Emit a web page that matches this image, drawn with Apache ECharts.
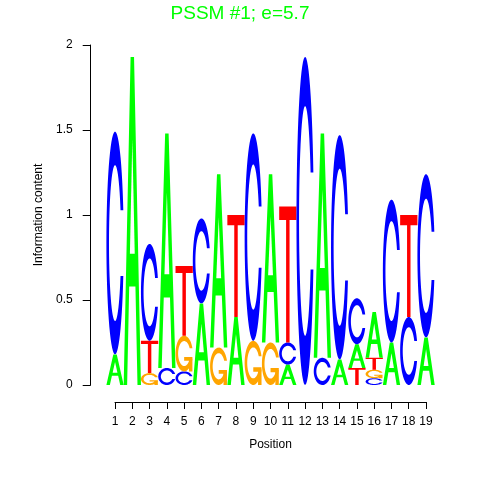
<!DOCTYPE html>
<html><head><meta charset="utf-8">
<script src="https://cdn.jsdelivr.net/npm/echarts@6/dist/echarts.min.js"></script>
<style>html,body{margin:0;padding:0;background:#fff}#c{width:480px;height:480px}</style>
</head><body><div id="c"></div>
<script>
// ---- data ----
const positions = [1,2,3,4,5,6,7,8,9,10,11,12,13,14,15,16,17,18,19];
const letters = ['A','C','G','T'];
const heightA = [0.18,1.93,0,   1.38,0,   0.48,1.02,0.40,0,   0.99,0.12,0,   1.32,0.15,0.14,0.27,0.25,0,   0.28];
const heightC = [1.31,0,   0.57,0.10,0.08,0.50,0,   0,   1.22,0,   0.13,1.93,0.16,1.32,0.27,0.04,0.84,0.40,0.96];
const heightG = [0,   0,   0.07,0,   0.21,0,   0.22,0,   0.26,0.25,0,   0,   0,   0,   0,   0.05,0,   0,   0];
const heightT = [0,   0,   0.19,0,   0.41,0,   0,   0.60,0,   0,   0.80,0,   0,   0,   0.10,0.07,0,   0.60,0];
const yTickLabels = ['0','0.5','1','1.5','2'];
const xTickLabels = positions.map(String);
const titleText = 'PSSM #1; e=5.7';

// ---- styles ----
const letterColor = {A:'#00FF00', C:'#0000FF', G:'#FFA500', T:'#FF0000'};
const FONT = 'Liberation Sans, Arial, Helvetica, sans-serif';

// build stacked items (sorted ascending by height, smallest at bottom)
const heights = {A:heightA, C:heightC, G:heightG, T:heightT};
const items = [];
positions.forEach((p, i) => {
  const col = letters.map((L, li) => ({L, li, h: heights[L][i]})).filter(d => d.h > 0)
    .sort((a, b) => a.h - b.h);
  let base = 0;
  col.forEach(d => { items.push([p, base, base + d.h, d.li]); base += d.h; });
});

// glyph outlines in unit box (u across, v up)
function cOutline() {
  const pts = [];
  const t0 = Math.PI/2 + 0.3, t1 = 2.5*Math.PI - 0.3, N = 60;
  for (let i = 0; i <= N; i++) { const t = t0 + (t1-t0)*i/N; pts.push([0.5+0.5*Math.sin(t), 0.5+0.5*Math.cos(t)]); }
  const ycut = 0.5 + 0.5*Math.cos(t0);
  const ti0 = Math.acos((ycut-0.5)/0.35), ti1 = 3*Math.PI - ti0;
  for (let i = 0; i <= N; i++) { const t = ti1 - (ti1-ti0)*i/N; pts.push([0.5+0.35*Math.sin(t), 0.5+0.35*Math.cos(t)]); }
  return pts;
}
const C_PTS = cOutline();
const r1 = Math.max(...C_PTS.map(p => p[0]));
const GLYPHS = {
  A: [{pts:[[0,0],[0.4,1],[0.6,1],[1,0],[0.8,0],[0.68,0.3],[0.32,0.3],[0.2,0]]},
      {pts:[[0.36,0.4],[0.5,0.75],[0.64,0.4]], white:true}],
  C: [{pts:C_PTS}],
  G: [{pts:C_PTS},{pts:[[r1,0.4],[0.5,0.4],[0.5,0.3],[r1-0.2,0.3],[r1-0.2,0],[r1,0]]}],
  T: [{pts:[[0,1],[1,1],[1,0.9],[0.6,0.9],[0.6,0],[0.4,0],[0.4,0.9],[0,0.9]]}]
};

function renderItem(params, api) {
  const p = api.value(0), y0 = api.value(1), y1 = api.value(2), L = letters[api.value(3)];
  const tl = api.coord([p - 0.5, y1]);
  const br = api.coord([p + 0.5, y0]);
  const x = tl[0], w = br[0] - tl[0], bottom = br[1], h = br[1] - tl[1];
  const children = GLYPHS[L].map(g => ({
    type: 'polygon',
    shape: {points: g.pts.map(q => [x + q[0]*w, bottom - q[1]*h])},
    style: {fill: g.white ? '#FFFFFF' : letterColor[L], stroke: null}
  }));
  return {type: 'group', children};
}

const chart = echarts.init(document.getElementById('c'), null, {renderer: 'canvas'});
chart.setOption({
  animation: false,
  backgroundColor: '#ffffff',
  title: {text: titleText, left: 'center', top: -1,
    textStyle: {color: '#00FF00', fontSize: 19, fontWeight: 'normal', fontFamily: FONT}},
  grid: [
    {left: 106.4, right: 45.3, top: 45, bottom: 95},
    {left: 115, right: 54, top: 401, height: 1}
  ],
  xAxis: [
    {gridIndex: 0, type: 'value', min: 0.5, max: 19.5, show: false},
    {gridIndex: 1, type: 'value', min: 1, max: 19, interval: 1, position: 'bottom',
     axisLine: {show: true, lineStyle: {color: '#000', width: 1}},
     axisTick: {show: true, inside: false, length: 7, lineStyle: {color: '#000'}},
     axisLabel: {margin: 14, fontSize: 12, color: '#000', fontFamily: FONT,
       formatter: v => xTickLabels[positions.indexOf(v)] || ''},
     splitLine: {show: false},
     name: 'Position', nameLocation: 'middle', nameGap: 37,
     nameTextStyle: {fontSize: 12, color: '#000', fontFamily: FONT}}
  ],
  yAxis: [
    {gridIndex: 0, type: 'value', min: 0, max: 2, interval: 0.5, offset: 15.7,
     axisLine: {show: true, lineStyle: {color: '#000', width: 1}},
     axisTick: {show: true, inside: false, length: 8, lineStyle: {color: '#000'}},
     axisLabel: {margin: 18, fontSize: 12, color: '#000', fontFamily: FONT,
       formatter: v => yTickLabels[Math.round(v / 0.5)]},
     splitLine: {show: false},
     name: 'Information content', nameLocation: 'middle', nameGap: 46,
     nameTextStyle: {fontSize: 12, color: '#000', fontFamily: FONT}},
    {gridIndex: 1, type: 'value', show: false, min: 0, max: 1}
  ],
  series: [{
    type: 'custom', coordinateSystem: 'cartesian2d', xAxisIndex: 0, yAxisIndex: 0,
    renderItem, data: items, encode: {x: 0, y: [1, 2]}, clip: false, silent: true
  }]
});
</script></body></html>
